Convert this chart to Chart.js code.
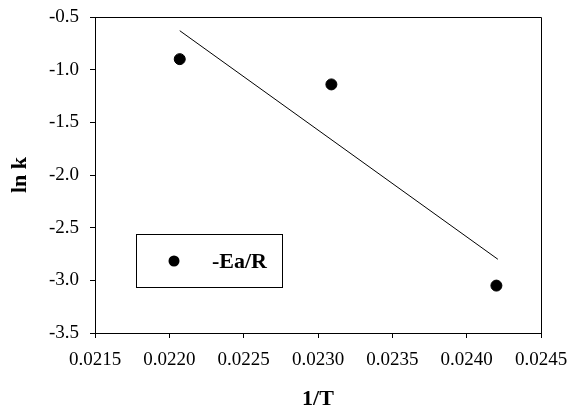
<!DOCTYPE html>
<html>
<head>
<meta charset="utf-8">
<script src="https://cdn.jsdelivr.net/npm/chart.js@4"></script>
<style>
  html, body { margin: 0; padding: 0; background: #fff; }
  #wrap { width: 571px; height: 409px; }
</style>
</head>
<body>
<div id="wrap"><canvas id="chart" width="571" height="409"></canvas></div>
<script>
// measured points (1/T, ln k)
const invT = [0.02207, 0.02309, 0.02420];
const lnK = [-0.90, -1.14, -3.05];
// fitted line end points
const fitX = [0.02207, 0.02421];
const fitY = [-0.63, -2.80];
const xTicks = [0.0215, 0.0220, 0.0225, 0.0230, 0.0235, 0.0240, 0.0245];
const yTicks = [-3.5, -3.0, -2.5, -2.0, -1.5, -1.0, -0.5];
const seriesLabel = "-Ea/R";

const serif = "'Liberation Serif', 'Times New Roman', serif";

// frame on top and right of plot area + legend box inside
const framePlugin = {
  id: "frame",
  afterDraw(chart) {
    const { ctx, chartArea: a } = chart;
    ctx.save();
    ctx.strokeStyle = "#000";
    ctx.lineWidth = 1;
    ctx.beginPath();
    ctx.moveTo(a.left, a.top + 0.5);
    ctx.lineTo(a.right + 0.5, a.top + 0.5);
    ctx.lineTo(a.right + 0.5, a.bottom);
    ctx.stroke();

    // legend
    ctx.strokeRect(136.5, 234.5, 146, 53);
    ctx.fillStyle = "#000";
    ctx.beginPath();
    ctx.arc(174, 261, 5.5, 0, Math.PI * 2);
    ctx.fill();
    ctx.font = "bold 22px " + serif;
    ctx.textBaseline = "middle";
    ctx.fillText(seriesLabel, 212, 262);
    ctx.restore();
  }
};

new Chart(document.getElementById("chart"), {
  type: "scatter",
  data: {
    datasets: [
      {
        label: seriesLabel,
        data: invT.map((x, i) => ({ x: x, y: lnK[i] })),
        backgroundColor: "#000",
        borderColor: "#000",
        pointRadius: 5.5,
        pointHoverRadius: 5.5
      },
      {
        label: "fit",
        type: "line",
        data: fitX.map((x, i) => ({ x: x, y: fitY[i] })),
        borderColor: "#000",
        borderWidth: 1,
        pointRadius: 0,
        fill: false
      }
    ]
  },
  options: {
    responsive: false,
    animation: false,
    layout: { padding: { top: 17, right: 30, left: 0, bottom: 0 } },
    plugins: {
      legend: { display: false },
      tooltip: { enabled: false }
    },
    scales: {
      x: {
        type: "linear",
        min: 0.0215,
        max: 0.0245,
        afterBuildTicks: (scale) => { scale.ticks = xTicks.map(v => ({ value: v })); },
        afterFit: (scale) => {
          scale.height = 76;
          scale.paddingLeft = 0;
          scale.paddingRight = 0;
        },
        border: { color: "#000", width: 1 },
        grid: { drawOnChartArea: false, tickLength: 5, color: "#000" },
        ticks: {
          color: "#000",
          padding: 11,
          maxRotation: 0,
          font: { family: serif, size: 19 },
          callback: (v) => v.toFixed(4)
        },
        title: {
          display: true,
          text: "1/T",
          color: "#000",
          padding: { top: 0, bottom: -1 },
          font: { family: serif, size: 22, weight: "bold", lineHeight: 1 }
        }
      },
      y: {
        type: "linear",
        min: -3.5,
        max: -0.5,
        afterBuildTicks: (scale) => { scale.ticks = yTicks.map(v => ({ value: v })); },
        afterFit: (scale) => {
          scale.width = 95;
          scale.paddingTop = 0;
          scale.paddingBottom = 0;
        },
        border: { color: "#000", width: 1 },
        grid: { drawOnChartArea: false, tickLength: 5, color: "#000" },
        ticks: {
          color: "#000",
          padding: 11,
          font: { family: serif, size: 19 },
          callback: (v) => v.toFixed(1)
        },
        title: {
          display: true,
          text: "ln k",
          color: "#000",
          padding: { top: 9, bottom: 0 },
          font: { family: serif, size: 22, weight: "bold", lineHeight: 1 }
        }
      }
    }
  },
  plugins: [framePlugin]
});
</script>
</body>
</html>
